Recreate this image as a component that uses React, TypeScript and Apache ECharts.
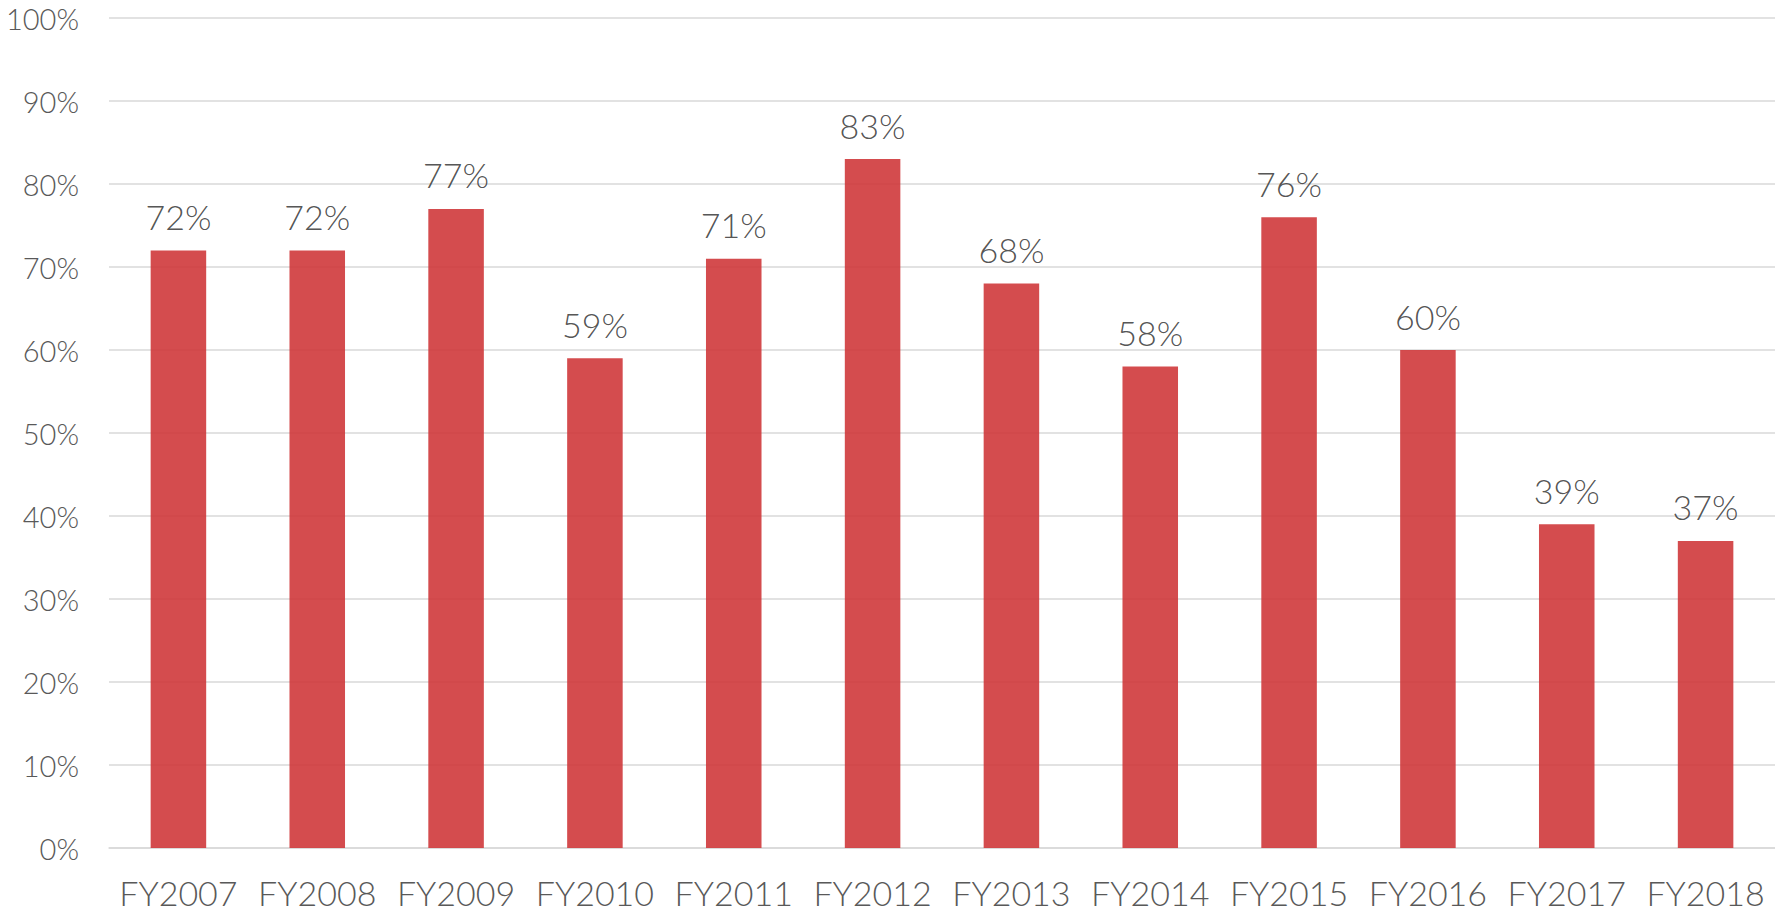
import React, { useEffect, useRef } from "react";
import * as echarts from "echarts";

const categories = ["FY2007", "FY2008", "FY2009", "FY2010", "FY2011", "FY2012", "FY2013", "FY2014", "FY2015", "FY2016", "FY2017", "FY2018"];
const values = [72, 72, 77, 59, 71, 83, 68, 58, 76, 60, 39, 37];
const yTicks = { min: 0, max: 100, interval: 10 };

const FONT = "Lato, 'Liberation Sans', sans-serif";

export default function App() {
  const ref = useRef<HTMLDivElement>(null);
  useEffect(() => {
    document.body.style.margin = "0";
    const chart = echarts.init(ref.current!, null, { renderer: "svg" });
    chart.setOption({
      animation: false,
      backgroundColor: "#ffffff",
      grid: { left: 109, right: 0, top: 18, bottom: 66, containLabel: false },
      xAxis: {
        type: "category",
        data: categories,
        axisLine: { show: true, lineStyle: { color: "#d9d9d9", width: 1.5 } },
        axisTick: { show: false },
        axisLabel: { color: "#595959", fontSize: 34, lineHeight: 38, fontWeight: 300, fontFamily: FONT, margin: 25, interval: 0 },
      },
      yAxis: {
        type: "value",
        min: yTicks.min,
        max: yTicks.max,
        interval: yTicks.interval,
        axisLine: { show: false },
        axisTick: { show: false },
        splitLine: { lineStyle: { color: "#d9d9d9", width: 1.5 } },
        axisLabel: { color: "#595959", fontSize: 29, fontWeight: 300, fontFamily: FONT, margin: 30, formatter: "{value}%" },
      },
      series: [
        {
          type: "bar",
          data: values,
          barWidth: "40%",
          itemStyle: { color: "#CF383B", opacity: 0.9 },
          label: {
            show: true,
            position: "top",
            distance: 17,
            color: "#404040",
            fontSize: 34,
            fontWeight: 300,
            fontFamily: FONT,
            formatter: "{c}%",
          },
        },
      ],
    });
    return () => chart.dispose();
  }, []);
  return <div ref={ref} style={{ position: "fixed", left: 0, top: 0, width: 1775, height: 914 }} />;
}
